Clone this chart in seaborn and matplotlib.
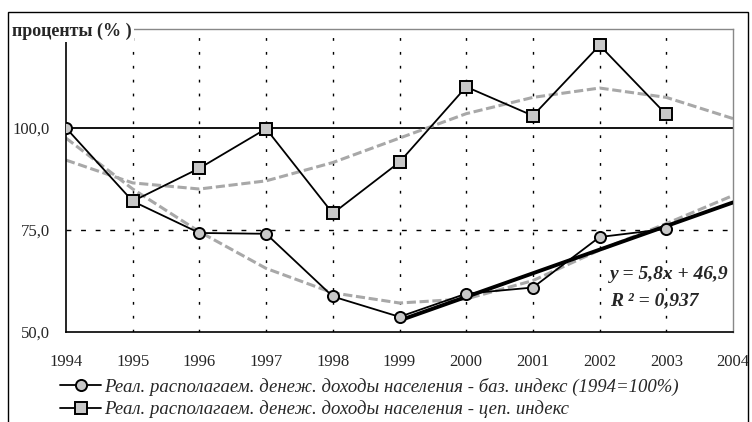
import numpy as np
import pandas as pd
import matplotlib.pyplot as plt
import seaborn as sns

# DATA
years = [1994, 1995, 1996, 1997, 1998, 1999, 2000, 2001, 2002, 2003, 2004]
base_years = [1994, 1995, 1996, 1997, 1998, 1999, 2000, 2001, 2002, 2003]
base_index = [100.0, 82.0, 74.2, 74.0, 58.6, 53.6, 59.3, 60.8, 73.2, 75.2]
chain_years = [1995, 1996, 1997, 1998, 1999, 2000, 2001, 2002, 2003]
chain_index = [82.0, 90.1, 99.8, 79.0, 91.6, 110.1, 103.0, 120.3, 103.3]

# polynomial trend lines as drawn on the chart (value at each year)
base_trend = [97.5, 85.0, 74.5, 65.5, 59.5, 57.0, 58.0, 62.5, 70.0, 76.5, 83.4]
chain_trend = [92.1, 86.5, 85.0, 87.0, 91.5, 97.5, 103.5, 107.5, 109.8, 107.5, 102.3]

# linear trend shown on chart: y = 5,8x + 46,9 (x = 1 for 1999)
lin_slope = 5.8
lin_intercept = 46.9
lin_years = [1999, 2004]

label_base = "Реал. располагаем. денеж. доходы населения - баз. индекс (1994=100%)"
label_chain = "Реал. располагаем. денеж. доходы населения - цеп. индекс"

sns.set_style("white")
plt.rcParams["font.family"] = ["Liberation Serif", "DejaVu Serif"]

df_base = pd.DataFrame({"year": base_years, "value": base_index})
df_chain = pd.DataFrame({"year": chain_years, "value": chain_index})
df_trend = pd.DataFrame({"year": years, "base": base_trend, "chain": chain_trend})

fig = plt.figure(figsize=(7.52, 4.22), dpi=100)
ax = fig.add_axes([66 / 752, 1 - 331.5 / 422, (733 - 66) / 752, (331.5 - 29) / 422])

# polynomial trends (grey hatched look)
for col in ["base", "chain"]:
    sns.lineplot(data=df_trend, x="year", y=col, ax=ax, color="#a8a8a8", lw=2.2,
                 dashes=False, zorder=2, legend=False)
for line in ax.lines:
    line.set_linestyle((0, (3, 1.2)))

# linear trend
lin_x = np.array(lin_years)
ax.plot(lin_x, lin_slope * (lin_x - 1998) + lin_intercept, color="black", lw=2.8, zorder=3)

sns.lineplot(data=df_base, x="year", y="value", ax=ax, color="black", lw=1.3,
             marker="o", markersize=8, markerfacecolor="#c8c8c8",
             markeredgecolor="black", markeredgewidth=1.4, label=label_base, zorder=4)
sns.lineplot(data=df_chain, x="year", y="value", ax=ax, color="black", lw=1.3,
             marker="s", markersize=8, markerfacecolor="#c8c8c8",
             markeredgecolor="black", markeredgewidth=1.4, label=label_chain, zorder=4)

# grid
for yr in years[1:-1]:
    ax.axvline(yr, color="black", lw=1, ls=(0, (2, 8)), zorder=1)
ax.axhline(75, color="black", lw=1, ls=(0, (3.5, 7)), zorder=1)
ax.axhline(100, color="black", lw=1.3, zorder=1)

ax.set_xlim(1994, 2004)
ax.set_ylim(50, 124.3)
ax.set_xticks(years)
ax.set_xticklabels([str(y) for y in years], fontsize=12)
ax.set_yticks([50, 75, 100])
ax.set_yticklabels(["50,0", "75,0", "100,0"], fontsize=12)
ax.tick_params(axis="both", length=4, width=1, color="black", direction="out")
ax.tick_params(axis="x", pad=12.5)
ax.tick_params(axis="y", pad=7.5)
ax.set_xlabel("")
ax.set_ylabel("")

for s in ["left", "bottom"]:
    ax.spines[s].set_color("black")
    ax.spines[s].set_linewidth(1.2)
for s in ["top", "right"]:
    ax.spines[s].set_color("#888888")
    ax.spines[s].set_linestyle((0, (1, 1)))
    ax.spines[s].set_linewidth(1)

ax.text(2002.16, 64.0, "y = 5,8x + 46,9", ha="left", va="center",
        fontsize=14, fontweight="bold", style="italic", zorder=5)
ax.text(2002.16, 57.5, "R ² = 0,937", ha="left", va="center",
        fontsize=14, fontweight="bold", style="italic", zorder=5)

fig.text(12 / 752, 1 - 31 / 422, "проценты (% )", fontsize=13, fontweight="bold",
         va="center", ha="left",
         bbox=dict(facecolor="white", edgecolor="none", pad=1.5))

leg = ax.legend(loc="upper left", bbox_to_anchor=(60 / 752, 1 - 378 / 422),
                bbox_transform=fig.transFigure, frameon=False,
                prop={"style": "italic", "size": 13.5}, handlelength=2.2,
                handletextpad=0.15, labelspacing=0.22, borderpad=0, borderaxespad=0)

# outer chart frame
fig.patches.append(plt.Rectangle((8 / 752, -0.01), 740 / 752, 1.01 - 12 / 422,
                                 transform=fig.transFigure, fill=False,
                                 edgecolor="black", lw=1))

fig.savefig("out.png", dpi=100)
